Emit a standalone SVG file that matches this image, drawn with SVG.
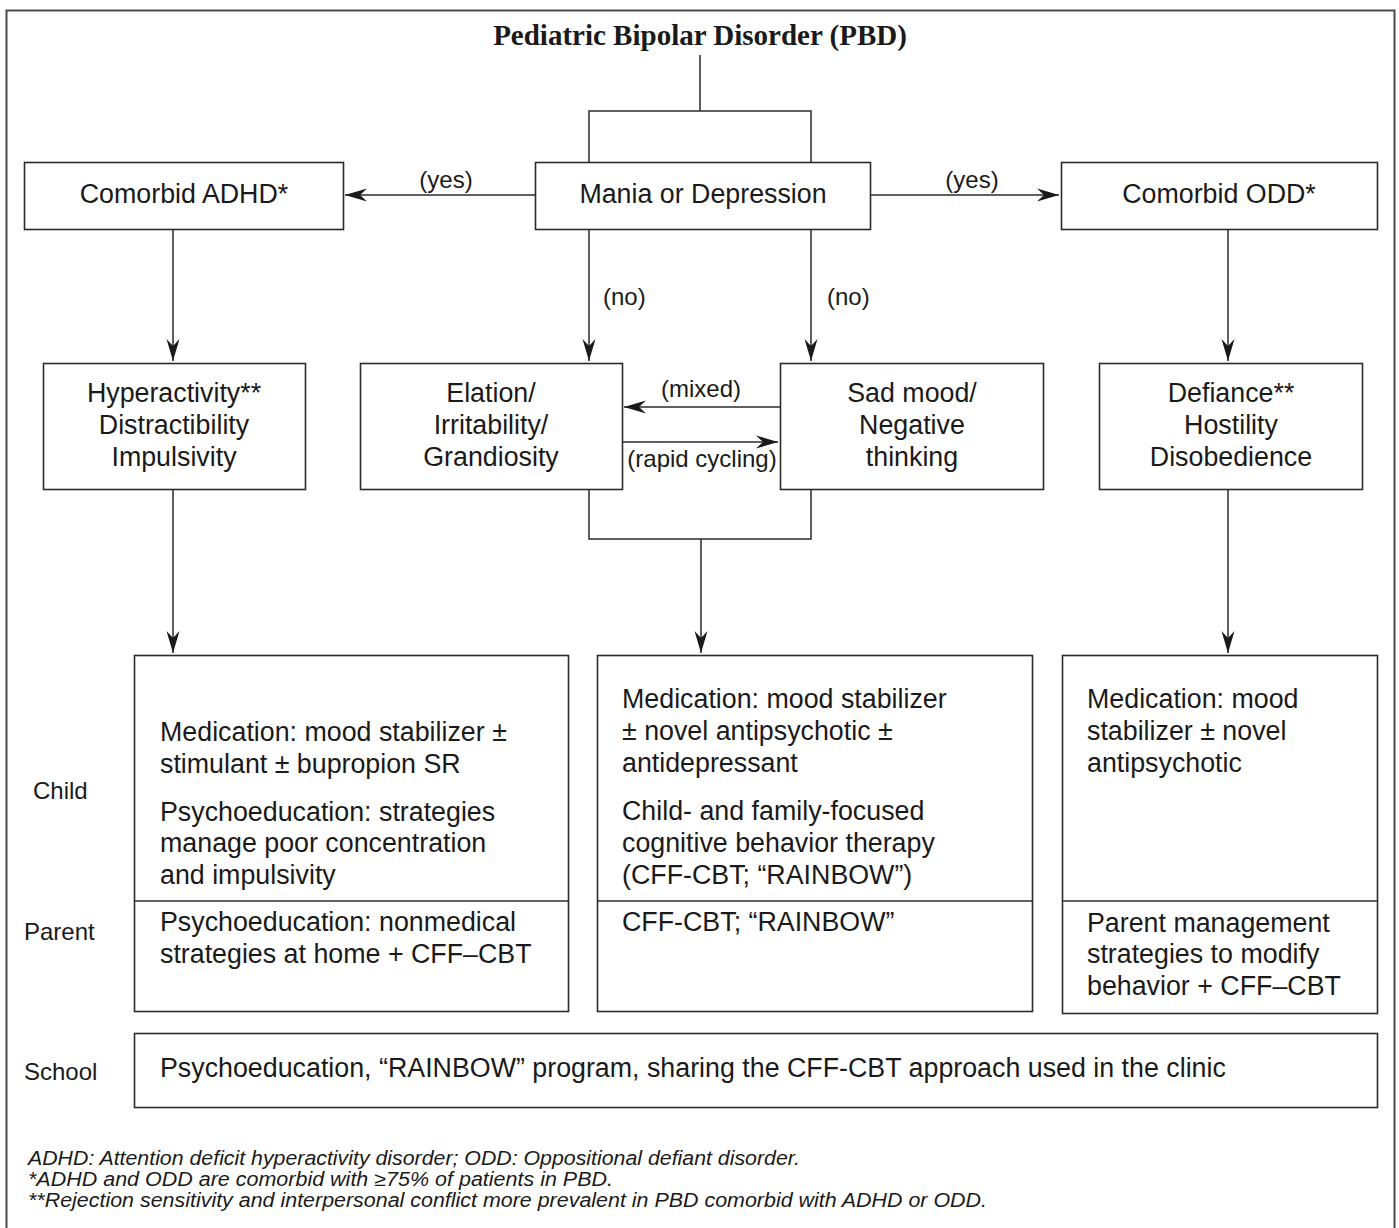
<svg xmlns="http://www.w3.org/2000/svg" width="1399" height="1228" viewBox="0 0 1399 1228">
<style>
.box{fill:#fff;stroke:#2b2b2b;stroke-width:1.6}
.ln{fill:none;stroke:#2b2b2b;stroke-width:1.5}
.t{font-family:"Liberation Sans",Arial,sans-serif;font-size:26.8px;fill:#1a1a1a}
.c{text-anchor:middle}
.lb{font-family:"Liberation Sans",Arial,sans-serif;font-size:24px;fill:#1a1a1a}
.fn{font-family:"Liberation Sans",Arial,sans-serif;font-size:19.5px;font-style:italic;fill:#1a1a1a}
.title{font-family:"Liberation Serif","Times New Roman",serif;font-size:29px;font-weight:bold;fill:#1a1a1a;text-anchor:middle}
</style>
<defs>
<marker id="ah" markerUnits="userSpaceOnUse" markerWidth="26" markerHeight="16" viewBox="-24 -8 26 16" refX="0" refY="0" orient="auto">
<path d="M0,0 L-22,-6.5 L-15,0 L-22,6.5 Z" fill="#1a1a1a"/>
</marker>
</defs>
<rect x="0" y="0" width="1399" height="1228" fill="#fff"/>
<rect x="6.5" y="10.5" width="1388" height="1240" fill="none" stroke="#4a4a4a" stroke-width="2"/>
<text class="title" x="700" y="45">Pediatric Bipolar Disorder (PBD)</text>

<g id="connectors">
<path class="ln" d="M700,55 V111 M589,162 V111 H811 V162"/>
<path class="ln" d="M535,195 H345" marker-end="url(#ah)"/>
<path class="ln" d="M870,195 H1059" marker-end="url(#ah)"/>
<path class="ln" d="M173,229 V361" marker-end="url(#ah)"/>
<path class="ln" d="M589,229 V361" marker-end="url(#ah)"/>
<path class="ln" d="M811,229 V361" marker-end="url(#ah)"/>
<path class="ln" d="M1228,229 V361" marker-end="url(#ah)"/>
<path class="ln" d="M780,407 H624" marker-end="url(#ah)"/>
<path class="ln" d="M622,442 H778" marker-end="url(#ah)"/>
<path class="ln" d="M589,489 V539 H811 V489 M701,539 V653" marker-end="url(#ah)"/>
<path class="ln" d="M173,489 V653" marker-end="url(#ah)"/>
<path class="ln" d="M1228,489 V653" marker-end="url(#ah)"/>
<text class="lb c" x="446" y="188">(yes)</text>
<text class="lb c" x="972" y="188">(yes)</text>
<text class="lb" x="603" y="305">(no)</text>
<text class="lb" x="827" y="305">(no)</text>
<text class="lb c" x="701" y="397">(mixed)</text>
<text class="lb c" x="702" y="467">(rapid cycling)</text>
</g>

<g id="node-adhd">
<rect class="box" x="24.5" y="162.5" width="319" height="67"/>
<text class="t c" x="184" y="203">Comorbid ADHD*</text>
</g>
<g id="node-mania">
<rect class="box" x="535.5" y="162.5" width="335" height="67"/>
<text class="t c" x="703" y="203">Mania or Depression</text>
</g>
<g id="node-odd">
<rect class="box" x="1061.5" y="162.5" width="316" height="67"/>
<text class="t c" x="1219" y="203">Comorbid ODD*</text>
</g>

<g id="node-hyper">
<rect class="box" x="43.5" y="363.5" width="262" height="126"/>
<text class="t c" x="174" y="402">Hyperactivity**</text>
<text class="t c" x="174" y="434">Distractibility</text>
<text class="t c" x="174" y="466">Impulsivity</text>
</g>
<g id="node-elation">
<rect class="box" x="360.5" y="363.5" width="262" height="126"/>
<text class="t c" x="491" y="402">Elation/</text>
<text class="t c" x="491" y="434">Irritability/</text>
<text class="t c" x="491" y="466">Grandiosity</text>
</g>
<g id="node-sad">
<rect class="box" x="780.5" y="363.5" width="263" height="126"/>
<text class="t c" x="912" y="402">Sad mood/</text>
<text class="t c" x="912" y="434">Negative</text>
<text class="t c" x="912" y="466">thinking</text>
</g>
<g id="node-defiance">
<rect class="box" x="1099.5" y="363.5" width="263" height="126"/>
<text class="t c" x="1231" y="402">Defiance**</text>
<text class="t c" x="1231" y="434">Hostility</text>
<text class="t c" x="1231" y="466">Disobedience</text>
</g>

<g id="labels-rows">
<text class="lb" x="33" y="799">Child</text>
<text class="lb" x="24" y="940">Parent</text>
<text class="lb" x="24" y="1080">School</text>
</g>

<g id="node-treat-adhd">
<rect class="box" x="134.5" y="655.5" width="434" height="356"/>
<line class="ln" x1="134.5" y1="901" x2="568.5" y2="901"/>
<text class="t" x="160" y="741">Medication: mood stabilizer ±</text>
<text class="t" x="160" y="773">stimulant ± bupropion SR</text>
<text class="t" x="160" y="821">Psychoeducation: strategies</text>
<text class="t" x="160" y="852">manage poor concentration</text>
<text class="t" x="160" y="884">and impulsivity</text>
<text class="t" x="160" y="931">Psychoeducation: nonmedical</text>
<text class="t" x="160" y="963">strategies at home + CFF–CBT</text>
</g>
<g id="node-treat-pbd">
<rect class="box" x="597.5" y="655.5" width="435" height="356"/>
<line class="ln" x1="597.5" y1="901" x2="1032.5" y2="901"/>
<text class="t" x="622" y="708">Medication: mood stabilizer</text>
<text class="t" x="622" y="740">± novel antipsychotic ±</text>
<text class="t" x="622" y="772">antidepressant</text>
<text class="t" x="622" y="820">Child- and family-focused</text>
<text class="t" x="622" y="852">cognitive behavior therapy</text>
<text class="t" x="622" y="884">(CFF-CBT; “RAINBOW”)</text>
<text class="t" x="622" y="931">CFF-CBT; “RAINBOW”</text>
</g>
<g id="node-treat-odd">
<rect class="box" x="1062.5" y="655.5" width="315" height="358"/>
<line class="ln" x1="1062.5" y1="901" x2="1377.5" y2="901"/>
<text class="t" x="1087" y="708">Medication: mood</text>
<text class="t" x="1087" y="740">stabilizer ± novel</text>
<text class="t" x="1087" y="772">antipsychotic</text>
<text class="t" x="1087" y="932">Parent management</text>
<text class="t" x="1087" y="963">strategies to modify</text>
<text class="t" x="1087" y="995">behavior + CFF–CBT</text>
</g>
<g id="node-school">
<rect class="box" x="134.5" y="1033.5" width="1243" height="74"/>
<text class="t" x="160" y="1077">Psychoeducation, “RAINBOW” program, sharing the CFF-CBT approach used in the clinic</text>
</g>

<g id="footnotes">
<text class="fn" x="28" y="1165" textLength="772" lengthAdjust="spacingAndGlyphs">ADHD: Attention deficit hyperactivity disorder; ODD: Oppositional defiant disorder.</text>
<text class="fn" x="28" y="1186" textLength="585" lengthAdjust="spacingAndGlyphs">*ADHD and ODD are comorbid with ≥75% of patients in PBD.</text>
<text class="fn" x="28" y="1207" textLength="959" lengthAdjust="spacingAndGlyphs">**Rejection sensitivity and interpersonal conflict more prevalent in PBD comorbid with ADHD or ODD.</text>
</g>
</svg>
